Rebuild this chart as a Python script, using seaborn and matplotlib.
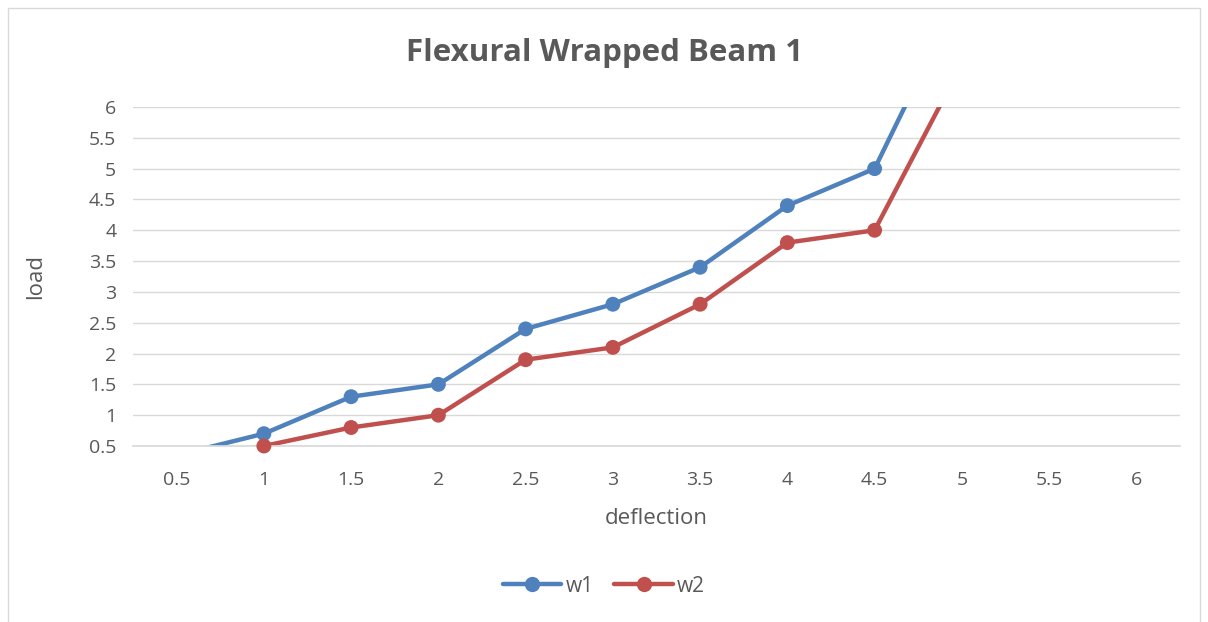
import matplotlib
matplotlib.use("Agg")
import matplotlib.pyplot as plt
import seaborn as sns
import pandas as pd
from matplotlib.patches import Rectangle
from matplotlib.lines import Line2D

deflection = [0, 1, 1.5, 2, 2.5, 3, 3.5, 4, 4.5, 5]
w1 = [0, 0.7, 1.3, 1.5, 2.4, 2.8, 3.4, 4.4, 5.0, 7.9]
w2 = [0, 0.5, 0.8, 1.0, 1.9, 2.1, 2.8, 3.8, 4.0, 6.7]
x_ticks = [0.5, 1, 1.5, 2, 2.5, 3, 3.5, 4, 4.5, 5, 5.5, 6]
y_ticks = [0.5, 1, 1.5, 2, 2.5, 3, 3.5, 4, 4.5, 5, 5.5, 6]

df = pd.concat([
    pd.DataFrame({"deflection": deflection, "load": w1, "series": "w1"}),
    pd.DataFrame({"deflection": deflection, "load": w2, "series": "w2"}),
])
colors = {"w1": "#4f81bd", "w2": "#c0504d"}
XMIN, XMAX, YMIN, YMAX = 0.25, 6.25, 0.5, 6

sns.set_theme(style="white")
plt.rcParams["font.family"] = ["Open Sans", "DejaVu Sans"]
txt = "#595959"

fig = plt.figure(figsize=(12.08, 6.22), dpi=100)
fig.patches.append(Rectangle((8/1208, -0.1), (1200-8)/1208, 1 - 8/622 + 0.1,
                             transform=fig.transFigure, fill=False,
                             edgecolor="#d9d9d9", linewidth=1))
ax = fig.add_axes([133/1208, 1-446/622, (1180-133)/1208, (446-107)/622])

sns.lineplot(data=df, x="deflection", y="load", hue="series", sort=False,
             palette=colors, linewidth=3.2, ax=ax, legend=False)
vis = df[(df["deflection"] >= XMIN) & (df["deflection"] <= XMAX) &
         (df["load"] >= YMIN) & (df["load"] <= YMAX)]
sns.scatterplot(data=vis, x="deflection", y="load", hue="series", palette=colors,
                s=115, linewidth=0, ax=ax, legend=False, clip_on=False, zorder=5)

ax.set_xlim(XMIN, XMAX)
ax.set_ylim(YMIN, YMAX)
ax.set_xticks(x_ticks)
ax.set_xticklabels([f"{v:g}" for v in x_ticks])
ax.set_yticks(y_ticks)
ax.set_yticklabels([f"{v:g}" for v in y_ticks])
ax.tick_params(axis="x", length=0, labelsize=14, labelcolor=txt, pad=18)
ax.tick_params(axis="y", length=0, labelsize=14, labelcolor=txt, pad=12)
ax.grid(axis="y", color="#d9d9d9", linewidth=1)
ax.grid(axis="x", visible=False)
for s in ["top", "right", "left"]:
    ax.spines[s].set_visible(False)
ax.spines["bottom"].set_color("#d9d9d9")
ax.set_axisbelow(True)

ax.set_xlabel("deflection", fontsize=16, color=txt, labelpad=14)
ax.set_ylabel("load", fontsize=16, color=txt, labelpad=31)
fig.text(0.5, 1-53/622, "Flexural Wrapped Beam 1", ha="center", va="center",
         fontsize=22.5, fontweight="bold", color=txt)

handles = [Line2D([], [], color=colors[k], linewidth=3.2, marker="o",
                  markersize=11, markeredgewidth=0) for k in ["w1", "w2"]]
fig.legend(handles, ["w1", "w2"], loc="center", bbox_to_anchor=(0.5, 1-586/622),
           ncol=2, frameon=False, fontsize=15, labelcolor=txt,
           handlelength=2.8, columnspacing=1.0, handletextpad=0.2)

fig.savefig("out.png", dpi=100)
